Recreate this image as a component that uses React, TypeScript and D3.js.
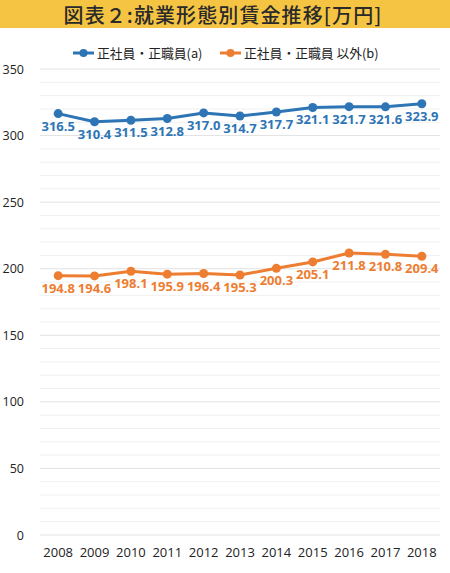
import React from "react";
import * as d3 from "d3";

const years = ["2008","2009","2010","2011","2012","2013","2014","2015","2016","2017","2018"];
const regular = [316.5,310.4,311.5,312.8,317.0,314.7,317.7,321.1,321.7,321.6,323.9];
const nonRegular = [194.8,194.6,198.1,195.9,196.4,195.3,200.3,205.1,211.8,210.8,209.4];
const yTicks = [0,50,100,150,200,250,300,350];
const minorTicks = d3.range(0, 351, 10);
const seriesNames = ["正社員・正職員(a)", "正社員・正職員 以外(b)"];
const title = "図表２:就業形態別賃金推移[万円]";

const W = 450, H = 573;
const left = 40, right = 440, top = 69, bottom = 535;
const BLUE = "#2E75B6", ORANGE = "#ED7D31";

export default function App() {
  const x = d3.scaleBand().domain(years).range([left, right]);
  const y = d3.scaleLinear().domain([0, 350]).range([bottom, top]);
  const cx = (d: string) => (x(d) as number) + x.bandwidth() / 2;
  const line = d3.line<number>().x((_, i) => cx(years[i])).y((v) => y(v));
  const series = [
    { name: seriesNames[0], data: regular, color: BLUE },
    { name: seriesNames[1], data: nonRegular, color: ORANGE },
  ];
  const numFont = "'Open Sans', 'DejaVu Sans', sans-serif";
  return (
    <svg width={W} height={H} style={{ position: "absolute", left: 0, top: 0, background: "#fff" }}>
      <rect x={0} y={0} width={W} height={28} fill="#F5C443" />
      <text x={223} y={23} textAnchor="middle" fontFamily="'Noto Sans CJK JP', sans-serif" fontSize={20} fontWeight={500} letterSpacing={1.1} fill="#2a2a2a">{title}</text>
      {minorTicks.map((t) => (
        <line key={"m" + t} x1={left} x2={right} y1={y(t)} y2={y(t)} stroke={t % 50 === 0 ? "#e2e2e2" : "#f0f0f0"} strokeWidth={1} />
      ))}
      {yTicks.map((t) => (
        <text key={"t" + t} x={24} y={y(t) + 4.5} textAnchor="end" fontFamily={numFont} fontSize={12.5} fill="#222">{t}</text>
      ))}
      {years.map((yr) => (
        <text key={yr} x={cx(yr)} y={557} textAnchor="middle" fontFamily={numFont} fontSize={13} fill="#222">{yr}</text>
      ))}
      {series.map((s) => (
        <g key={s.name}>
          <path d={line(s.data) || ""} fill="none" stroke={s.color} strokeWidth={3} strokeLinejoin="round" />
          {s.data.map((v, i) => (
            <circle key={i} cx={cx(years[i])} cy={y(v)} r={4.5} fill={s.color} />
          ))}
          {s.data.map((v, i) => (
            <text key={"l" + i} x={cx(years[i])} y={y(v) + 17} textAnchor="middle" fontFamily={numFont} fontSize={13} fontWeight={700} fill={s.color}>{v.toFixed(1)}</text>
          ))}
        </g>
      ))}
      {series.map((s, i) => {
        const lx = i === 0 ? 73 : 220;
        return (
          <g key={"lg" + i}>
            <line x1={lx} x2={lx + 21} y1={53} y2={53} stroke={s.color} strokeWidth={3} />
            <circle cx={lx + 10.5} cy={53} r={4} fill={s.color} />
            <text x={lx + 24} y={57.5} fontFamily="'Noto Sans CJK JP', sans-serif" fontSize={12.8} fill="#222">{s.name}</text>
          </g>
        );
      })}
    </svg>
  );
}
